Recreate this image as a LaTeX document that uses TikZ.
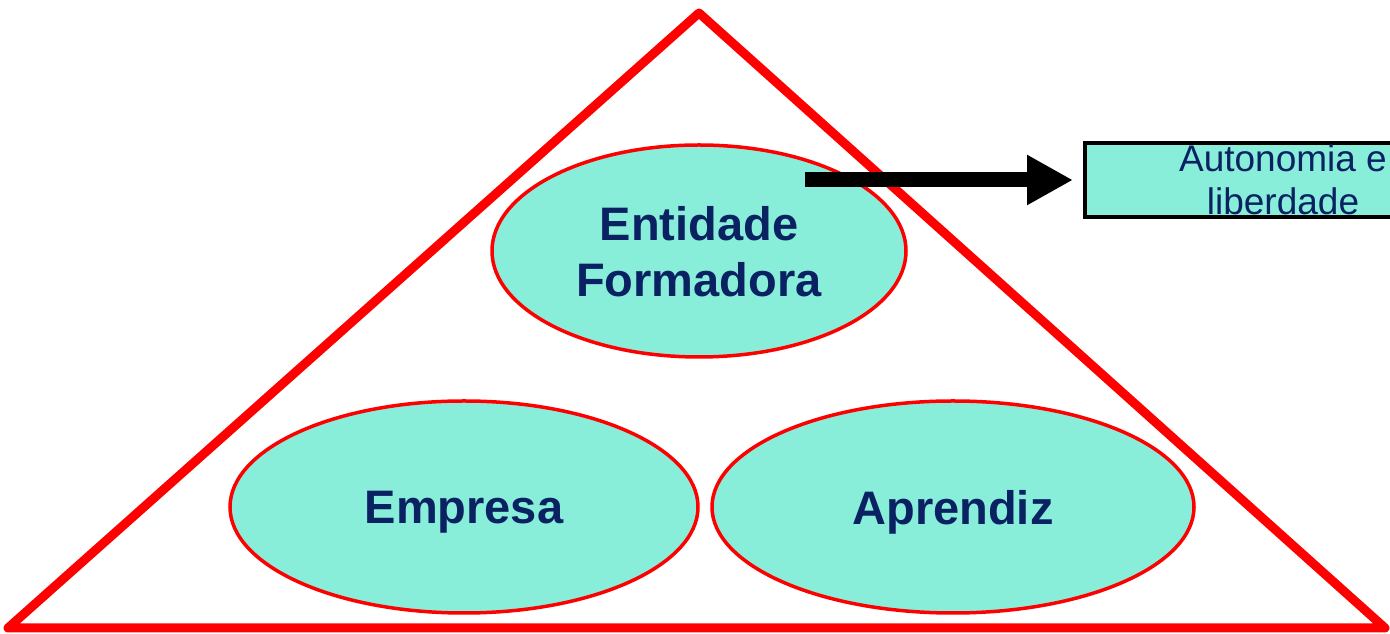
\documentclass[tikz,border=0pt]{standalone}
\usepackage{fontspec}
\setmainfont{Liberation Sans}
\usetikzlibrary{shapes.geometric,arrows.meta}
\definecolor{aqua}{RGB}{136,238,218}
\definecolor{navy}{RGB}{10,34,98}
\definecolor{tri}{RGB}{255,0,0}
\tikzset{
  oval/.style={ellipse, draw=tri, line width=3.5pt, fill=aqua, inner sep=0pt, text=navy,
    font=\bfseries\fontsize{47}{56}\selectfont, align=center, text depth=0pt},
  tribox/.style={draw=black, line width=4pt, fill=aqua, text=navy, inner sep=0pt,
    font=\fontsize{37}{43}\selectfont, align=center},
  bigarrow/.style={line width=15pt, -{Triangle[length=46pt,width=47pt]}}
}
\begin{document}
\begin{tikzpicture}[x=1pt,y=1pt]
\useasboundingbox (0,0) rectangle (1390,634);
\clip (0,0) rectangle (1390,634);
% ellipses
\node[oval, minimum width=414pt, minimum height=212pt] (ent) at (699,383) {Entidade\\Formadora};
\node[oval, minimum width=468pt, minimum height=212pt] (emp) at (464,127) {Empresa};
\node[oval, minimum width=482pt, minimum height=212pt] (apr) at (953,127) {Aprendiz};
% triangle
\coordinate (apex) at (699,621);
\coordinate (bl) at (8,6);
\coordinate (br) at (1385,6);
\draw[tri, line width=9pt, line join=round] (apex) -- (br) -- (bl) -- cycle;
% box
\node[tribox, minimum width=396pt, minimum height=74pt, anchor=west] (box) at (1083,454)
  {Autonomia e\\liberdade};
% arrow
\coordinate (astart) at (805,454);
\draw[bigarrow, shorten >=10pt] (astart) -- (box.west);
\end{tikzpicture}
\end{document}
